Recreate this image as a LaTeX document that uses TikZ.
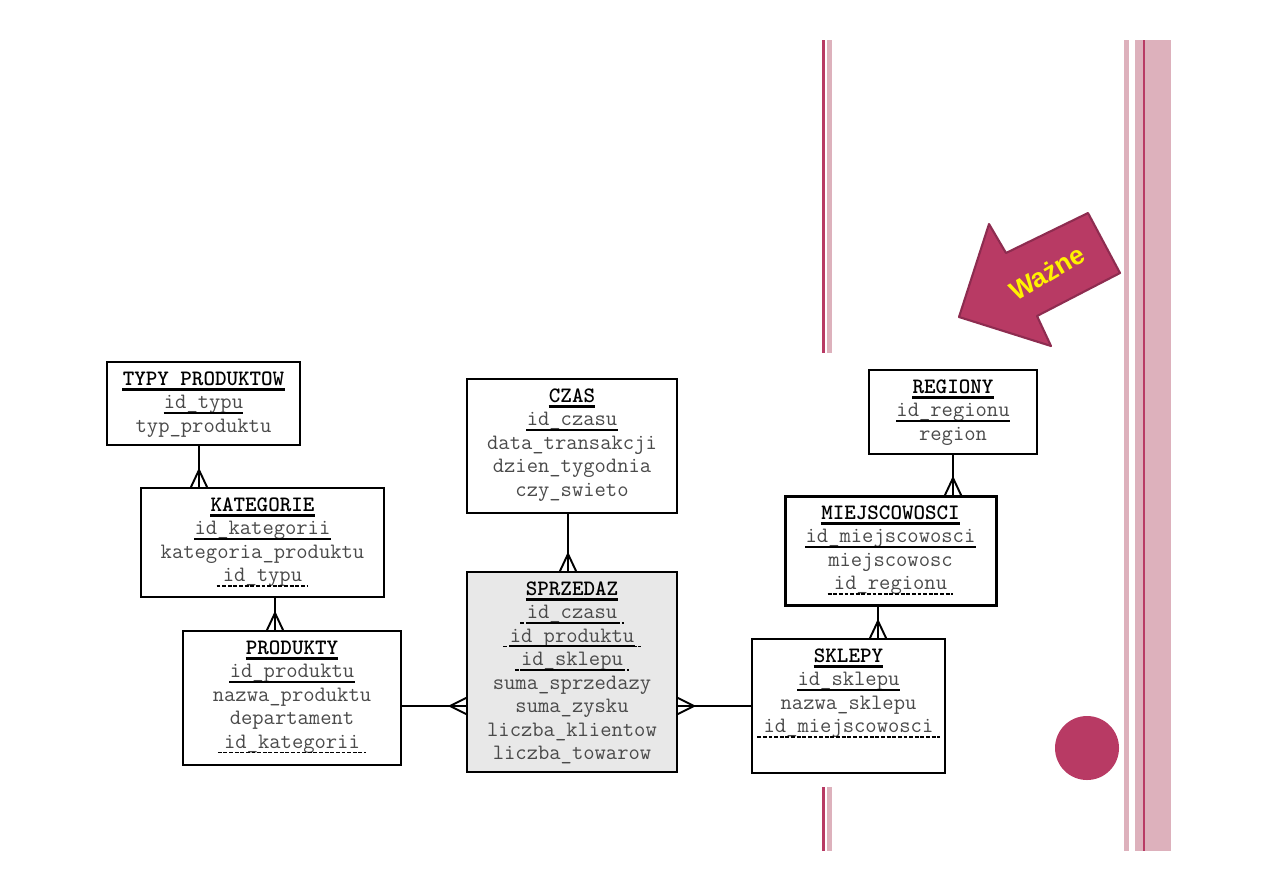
\documentclass[tikz,border=0pt]{standalone}
\usepackage{fontspec}
\newfontfamily\arialf{Liberation Sans}
\usetikzlibrary{fit,calc}
\definecolor{mag}{HTML}{B83A64}
\definecolor{magd}{HTML}{8E2C50}
\definecolor{pinkl}{HTML}{DDB1BC}
\definecolor{grayf}{HTML}{E8E8E8}
\definecolor{attrc}{HTML}{4A4A4A}
\newcommand\tul[1]{\draw[line width=1.3pt] ([yshift=-2.6pt]#1.base west) -- ([yshift=-2.6pt]#1.base east);}
\newcommand\pkul[1]{\draw[line width=0.9pt] ([yshift=-2.4pt]#1.base west) -- ([yshift=-2.4pt]#1.base east);}
\newcommand\fkul[1]{\draw[line width=0.9pt,dash pattern=on 2.2pt off 1pt] ([xshift=-3.4pt,yshift=-2.6pt]#1.base west) -- ([xshift=3.4pt,yshift=-2.6pt]#1.base east);}
\newcommand\crowv[1]{\draw[conn] ($#1+(-8.5,0)$) -- ($#1+(0,-18)$) -- ($#1+(8.5,0)$);}
\newcommand\crowl[1]{\draw[conn] ($#1+(0,-8.5)$) -- ($#1+(-17,0)$) -- ($#1+(0,8.5)$);}
\newcommand\crowr[1]{\draw[conn] ($#1+(0,-8.5)$) -- ($#1+(17,0)$) -- ($#1+(0,8.5)$);}
\begin{document}
\begin{tikzpicture}[x=0.02cm,y=-0.02cm,
  tbox/.style={draw,line width=1.2pt,inner sep=0pt,outer sep=0pt},
  ttl/.style={font=\ttfamily\bfseries\fontsize{12.5}{14}\selectfont,inner sep=0pt,anchor=base},
  attr/.style={font=\ttfamily\fontsize{12.5}{14}\selectfont,text=attrc,inner sep=0pt,anchor=base},
  conn/.style={line width=1.1pt}]
\useasboundingbox (0,0) rectangle (1263,893);
% decorative stripes
\fill[mag] (822,40) rectangle (825,353);
\fill[pinkl] (827,40) rectangle (832,353);
\fill[mag] (822,787) rectangle (825,851);
\fill[pinkl] (827,787) rectangle (832,851);
\fill[pinkl] (1124,40) rectangle (1129,851);
\fill[pinkl] (1135,40) rectangle (1171,851);
\fill[mag] (1143.3,40) rectangle (1145,851);
\fill[mag] (1087,748) circle (32);
% arrow
\draw[fill=mag,draw=magd,line width=1.2pt,line join=round] (959,317) -- (989,224) -- (1006,253) -- (1088,213) -- (1120,273) -- (1037,316) -- (1051,346) -- cycle;
\node[rotate=30,text=yellow,font=\arialf\bfseries\fontsize{15}{18}\selectfont] (wazne) at (1047,273) {Ważne};
% TYPY PRODUKTOW
\node[tbox,fit={(107,362) (300,445)}] (typy) {};
\node[ttl] (typyT) at (203.5,385) {TYPY PRODUKTOW};
\node[attr] (typy1) at (203.5,408.5) {id\_typu};
\node[attr] (typy2) at (203.5,432) {typ\_produktu};
\tul{typyT} \pkul{typy1}
% KATEGORIE
\node[tbox,fit={(141,488) (384,597)}] (kat) {};
\node[ttl] (katT) at (262.5,511) {KATEGORIE};
\node[attr] (kat1) at (262.5,534.5) {id\_kategorii};
\node[attr] (kat2) at (262.5,558) {kategoria\_produktu};
\node[attr] (kat3) at (262.5,581.5) {id\_typu};
\tul{katT} \pkul{kat1} \fkul{kat3}
% PRODUKTY
\node[tbox,fit={(183,631) (401,765)}] (prod) {};
\node[ttl] (prodT) at (292,654) {PRODUKTY};
\node[attr] (prod1) at (292,677.5) {id\_produktu};
\node[attr] (prod2) at (292,701) {nazwa\_produktu};
\node[attr] (prod3) at (292,724.5) {departament};
\node[attr] (prod4) at (292,748) {id\_kategorii};
\tul{prodT} \pkul{prod1} \fkul{prod4}
% CZAS
\node[tbox,fit={(467,379) (677,513)}] (czas) {};
\node[ttl] (czasT) at (572,402) {CZAS};
\node[attr] (czas1) at (572,425.5) {id\_czasu};
\node[attr] (czas2) at (572,449) {data\_transakcji};
\node[attr] (czas3) at (572,472.5) {dzien\_tygodnia};
\node[attr] (czas4) at (572,496) {czy\_swieto};
\tul{czasT} \pkul{czas1}
% SPRZEDAZ
\node[tbox,fill=grayf,fit={(467,572) (677,772)}] (sprz) {};
\node[ttl] (sprzT) at (572,595) {SPRZEDAZ};
\node[attr] (sprz1) at (572,618.5) {id\_czasu};
\node[attr] (sprz2) at (572,642) {id\_produktu};
\node[attr] (sprz3) at (572,665.5) {id\_sklepu};
\node[attr] (sprz4) at (572,689) {suma\_sprzedazy};
\node[attr] (sprz5) at (572,712.5) {suma\_zysku};
\node[attr] (sprz6) at (572,736) {liczba\_klientow};
\node[attr] (sprz7) at (572,759.5) {liczba\_towarow};
\tul{sprzT} \pkul{sprz1} \pkul{sprz2} \pkul{sprz3} \fkul{sprz1} \fkul{sprz2} \fkul{sprz3}
% REGIONY
\node[tbox,fit={(869,370) (1037,454)}] (reg) {};
\node[ttl] (regT) at (953,393) {REGIONY};
\node[attr] (reg1) at (953,416.5) {id\_regionu};
\node[attr] (reg2) at (953,440) {region};
\tul{regT} \pkul{reg1}
% MIEJSCOWOSCI
\node[tbox,line width=1.7pt,fit={(785,496) (996,605)}] (miej) {};
\node[ttl] (miejT) at (890.5,519) {MIEJSCOWOSCI};
\node[attr] (miej1) at (890.5,542.5) {id\_miejscowosci};
\node[attr] (miej2) at (890.5,566) {miejscowosc};
\node[attr] (miej3) at (890.5,589.5) {id\_regionu};
\tul{miejT} \pkul{miej1} \fkul{miej3}
% SKLEPY
\node[tbox,fit={(752,639) (945,773)}] (skl) {};
\node[ttl] (sklT) at (848.5,662) {SKLEPY};
\node[attr] (skl1) at (848.5,685.5) {id\_sklepu};
\node[attr] (skl2) at (848.5,709) {nazwa\_sklepu};
\node[attr] (skl3) at (848.5,732.5) {id\_miejscowosci};
\tul{sklT} \pkul{skl1} \fkul{skl3}
% connectors
\coordinate (j1) at (199,0);
\coordinate (j2) at (275,0);
\coordinate (j3) at (568,0);
\coordinate (j4) at (0,706);
\coordinate (j5) at (953,0);
\coordinate (j6) at (878,0);
\draw[conn] (typy.south -| j1) -- (kat.north -| j1);
\crowv{(kat.north -| j1)}
\draw[conn] (kat.south -| j2) -- (prod.north -| j2);
\crowv{(prod.north -| j2)}
\draw[conn] (czas.south -| j3) -- (sprz.north -| j3);
\crowv{(sprz.north -| j3)}
\draw[conn] (prod.east |- j4) -- (sprz.west |- j4);
\crowl{(sprz.west |- j4)}
\draw[conn] (skl.west |- j4) -- (sprz.east |- j4);
\crowr{(sprz.east |- j4)}
\draw[conn] (reg.south -| j5) -- (miej.north -| j5);
\crowv{(miej.north -| j5)}
\draw[conn] (miej.south -| j6) -- (skl.north -| j6);
\crowv{(skl.north -| j6)}
\end{tikzpicture}
\end{document}
